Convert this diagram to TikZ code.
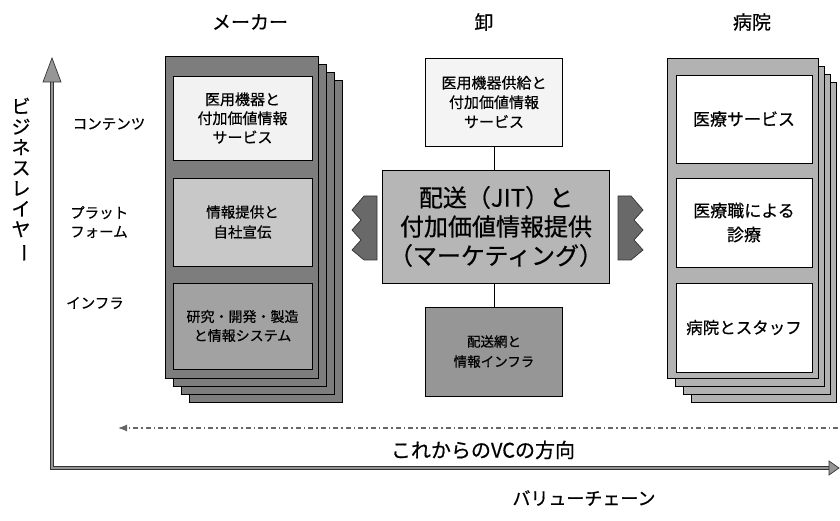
\documentclass[tikz,border=0pt]{standalone}
\usepackage{fontspec}
\setmainfont{Noto Sans CJK JP}[FakeBold=0.6]
\usepackage{graphicx}
\usetikzlibrary{arrows.meta}
\definecolor{mkpanel}{RGB}{125,125,125}
\definecolor{mkA}{RGB}{242,242,242}
\definecolor{mkB}{RGB}{200,200,200}
\definecolor{mkC}{RGB}{162,162,162}
\definecolor{ctA}{RGB}{244,244,244}
\definecolor{ctB}{RGB}{182,182,182}
\definecolor{ctC}{RGB}{150,150,150}
\definecolor{hspanel}{RGB}{178,178,178}
\definecolor{zig}{RGB}{105,105,105}
\definecolor{axisgray}{RGB}{150,150,150}
\tikzset{
  panel/.style={draw=black, line width=0.9pt},
  box/.style={draw=black, line width=0.8pt, inner sep=0pt, align=center},
  lbl/.style={inner sep=0pt, align=center},
  axisline/.style={draw=black!80, line width=0.7pt, double=axisgray, double distance=1.8pt},
  headtri/.style={draw=black!80, line width=0.7pt, fill=axisgray},
  dashdot/.style={draw=black!60, line width=1.2pt, dash pattern=on 5pt off 3pt on 1.5pt off 3pt},
  zigshape/.style={draw=black!80, line width=0.7pt, fill=zig}
}
\begin{document}
\begin{tikzpicture}[x=1pt,y=-1pt]
\useasboundingbox (0,0) rectangle (840,521);

% headers
\node[lbl, font=\fontsize{19}{22}\selectfont] (hmk) at (250,22) {メーカー};
\node[lbl, font=\fontsize{19}{22}\selectfont] (hct) at (484,22) {卸};
\node[lbl, font=\fontsize{19}{22}\selectfont] (hhs) at (752,22) {病院};

% axes
\coordinate (orig) at (52,468);
\coordinate (ytip) at (52,58);
\coordinate (ybase) at (52,82);
\coordinate (xtip) at (839,468);
\coordinate (xbase) at (829,468);
\draw[axisline] (ybase) -- (orig) -- (xbase);
\draw[headtri] (ytip) -- ([xshift=-9pt]ybase) -- ([xshift=9pt]ybase) -- cycle;
\draw[headtri] (xtip) -- ([yshift=-7pt]xbase) -- ([yshift=7pt]xbase) -- cycle;

% vertical axis title
\node[lbl, font=\fontsize{19}{20.5}\selectfont] (ylab) at (21,180)
  {ビ\\ジ\\ネ\\ス\\レ\\イ\\ヤ\\\rotatebox[origin=c]{-90}{ー}};

% layer labels
\node[lbl, font=\fontsize{14.5}{18}\selectfont] (lc) at (109,124) {コンテンツ};
\node[lbl, align=left, font=\fontsize{14.5}{19}\selectfont, anchor=west] (lp) at (70,222) {プラット\\フォーム};
\node[lbl, font=\fontsize{14.5}{18}\selectfont] (li) at (95,303) {インフラ};

% maker stack
\foreach \i in {3,2,1}
  \draw[panel, fill=mkpanel] ({165+8*\i},{56+8*\i}) rectangle ({318+8*\i},{378+8*\i});
\draw[panel, fill=mkpanel] (165,56) rectangle (318,378);
\node[box, fill=mkA, minimum width=139pt, minimum height=84pt, font=\fontsize{15}{19}\selectfont] (mk1) at (242.5,118) {医用機器と\\付加価値情報\\サービス};
\node[box, fill=mkB, minimum width=139pt, minimum height=88pt, font=\fontsize{14.5}{20}\selectfont] (mk2) at (242.5,222) {情報提供と\\自社宣伝};
\node[box, fill=mkC, minimum width=139pt, minimum height=86pt, font=\fontsize{14}{19}\selectfont] (mk3) at (242.5,326) {研究・開発・製造\\と情報システム};

% centre column
\node[box, fill=ctA, minimum width=137pt, minimum height=88pt, font=\fontsize{15}{19.5}\selectfont] (ct1) at (494,102) {医用機器供給と\\付加価値情報\\サービス};
\node[box, fill=ctB, minimum width=227pt, minimum height=113pt, font=\fontsize{24}{29}\selectfont] (ct2) at (496,226.5) {配送（JIT）と\\付加価値情報提供\\（マーケティング）};
\node[box, fill=ctC, minimum width=137pt, minimum height=89pt, font=\fontsize{13.5}{20}\selectfont] (ct3) at (494,351.5) {配送網と\\情報インフラ};
\draw[line width=0.8pt] (ct1.south) -- (ct1.south |- ct2.north);
\draw[line width=0.8pt] (ct3.north) -- (ct3.north |- ct2.south);

% zigzag arrows
\draw[zigshape] (377,196) -- (364,196) -- (352,210) -- (361,220) -- (352,230) -- (361,240) -- (352,250) -- (364,260) -- (377,260) -- cycle;
\draw[zigshape] (618,196) -- (631,196) -- (643,210) -- (634,220) -- (643,230) -- (634,240) -- (643,250) -- (631,260) -- (618,260) -- cycle;

% hospital stack
\foreach \i in {3,2,1}
  \draw[panel, fill=hspanel] ({667+8*\i},{58+8*\i}) rectangle ({818+6*\i},{378+8*\i});
\draw[panel, fill=hspanel] (667,58) rectangle (818,378);
\node[box, fill=white, minimum width=136pt, minimum height=88pt, font=\fontsize{17}{21}\selectfont] (hs1) at (744,119) {医療サービス};
\node[box, fill=white, minimum width=136pt, minimum height=89pt, font=\fontsize{17}{24}\selectfont] (hs2) at (744,222.5) {医療職による\\診療};
\node[box, fill=white, minimum width=136pt, minimum height=89pt, font=\fontsize{16.5}{21}\selectfont] (hs3) at (744,327.5) {病院とスタッフ};

% future direction arrow
\coordinate (dR) at (838,428);
\coordinate (dL) at (118,428);
\draw[dashdot, -{Latex[length=9pt,width=7pt]}] (dR) -- (dL);
\node[lbl, font=\fontsize{20}{24}\selectfont] (vc) at (483,450) {これからのVCの方向};

% horizontal axis title
\node[lbl, font=\fontsize{18}{22}\selectfont] (xlab) at (584,498) {バリューチェーン};
\end{tikzpicture}
\end{document}
